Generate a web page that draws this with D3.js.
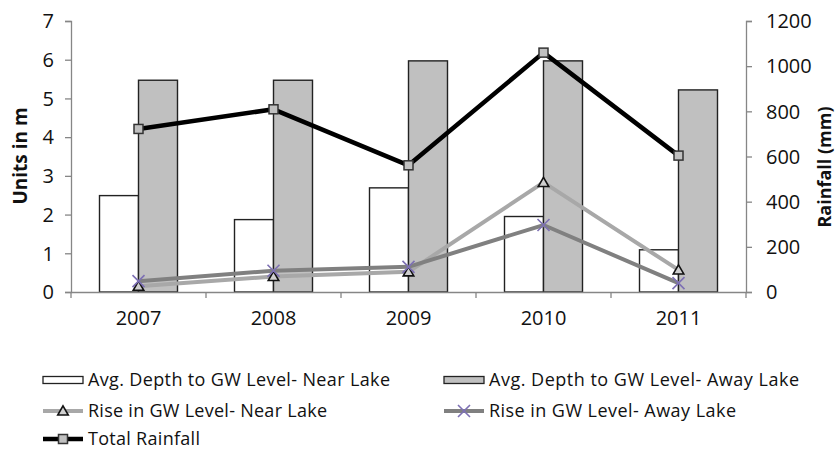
<!DOCTYPE html>
<html><head><meta charset="utf-8">
<script src="https://cdn.jsdelivr.net/npm/d3@7/dist/d3.min.js"></script>
<style>
html,body{margin:0;padding:0;background:#fff;}
svg{display:block;font-family:"Open Sans",sans-serif;}
</style></head>
<body>
<svg id="chart" width="838" height="452"></svg>
<script>
const years = ["2007","2008","2009","2010","2011"];
const depthNear = [2.49, 1.87, 2.69, 1.95, 1.09];
const depthAway = [5.47, 5.47, 5.97, 5.97, 5.22];
const riseNear = [0.15, 0.40, 0.52, 2.83, 0.57];
const riseAway = [0.28, 0.55, 0.65, 1.73, 0.23];
const rainfall = [722, 809, 561, 1060, 604];
const leftTicks = [0,1,2,3,4,5,6,7];
const rightTicks = [0,200,400,600,800,1000,1200];
const legendLabels = [
  "Avg. Depth to GW Level- Near Lake",
  "Avg. Depth to GW Level- Away Lake",
  "Rise in GW Level- Near Lake",
  "Rise in GW Level- Away Lake",
  "Total Rainfall"
];

const svg = d3.select("#chart");
const L = 71, R = 746, T = 21, B = 292;
const axisColor = "#868686";

const x = d3.scaleBand().domain(years).range([L, R]).padding(0);
const xs = d3.scaleBand().domain(["near","away"]).range([0, x.bandwidth()]).paddingInner(0).paddingOuter(0.7308);
const y = d3.scaleLinear().domain([0,7]).range([B, T]);
const y2 = d3.scaleLinear().domain([0,1200]).range([B, T]);

// Bars
const g = svg.append("g");
g.selectAll("rect.near").data(depthNear).join("rect")
  .attr("x", (d,i) => x(years[i]) + xs("near"))
  .attr("y", d => y(d)).attr("width", xs.bandwidth()).attr("height", d => B - y(d))
  .attr("fill", "#ffffff").attr("stroke", "#222").attr("stroke-width", 1.4);
g.selectAll("rect.away").data(depthAway).join("rect")
  .attr("x", (d,i) => x(years[i]) + xs("away"))
  .attr("y", d => y(d)).attr("width", xs.bandwidth()).attr("height", d => B - y(d))
  .attr("fill", "#c0c0c0").attr("stroke", "#222").attr("stroke-width", 1.4);

// Axes
const axL = svg.append("g").attr("transform", `translate(${L},0)`)
  .call(d3.axisLeft(y).tickValues(leftTicks).tickSize(6).tickPadding(11).tickFormat(d3.format("d")));
const axR = svg.append("g").attr("transform", `translate(${R},0)`)
  .call(d3.axisRight(y2).tickValues(rightTicks).tickSize(6).tickPadding(14).tickFormat(d3.format("d")));
const axB = svg.append("g").attr("transform", `translate(0,${B})`)
  .call(d3.axisBottom(x).tickSize(0).tickPadding(19));
const bounds = years.map(d => x(d)).concat([R]);
svg.append("g").selectAll("line").data(bounds).join("line")
  .attr("x1", d => d).attr("x2", d => d).attr("y1", B).attr("y2", B + 6)
  .attr("stroke", axisColor).attr("stroke-width", 1.3);
[axL, axR, axB].forEach(a => {
  a.select(".domain").attr("stroke", axisColor).attr("stroke-width", 1.3);
  a.selectAll(".tick line").attr("stroke", axisColor).attr("stroke-width", 1.3);
  a.selectAll(".tick text").attr("fill", "#111").style("font-size", "20px").style("font-family", "'Open Sans',sans-serif");
});
axR.selectAll(".tick text").attr("dy", "0.34em");
axL.selectAll(".tick text").attr("dy", "0.34em");

// Axis titles
svg.append("text").attr("transform", "translate(27,156) rotate(-90)")
  .attr("text-anchor", "middle").style("font-weight", "bold").style("font-size", "19px").attr("fill", "#111")
  .text("Units in m");
svg.append("text").attr("transform", "translate(831,167) rotate(-90)")
  .attr("text-anchor", "middle").style("font-weight", "bold").style("font-size", "18px").attr("fill", "#111")
  .text("Rainfall (mm)");

// Lines
const lineL = d3.line().x((d,i) => x(years[i]) + x.bandwidth()/2).y(d => y(d));
const lineR = d3.line().x((d,i) => x(years[i]) + x.bandwidth()/2).y(d => y2(d));
const cx = i => x(years[i]) + x.bandwidth()/2;

const triPath = d3.symbol().type(d3.symbolTriangle).size(48)();
function drawTri(sel, px, py) {
  sel.append("path").attr("d", triPath).attr("transform", `translate(${px},${py + 1})`)
    .attr("fill", "#d0d0d0").attr("stroke", "#111").attr("stroke-width", 1.6);
}
function drawX(sel, px, py) {
  const s = 6;
  sel.append("path").attr("d", `M${px-s},${py-s}L${px+s},${py+s}M${px-s},${py+s}L${px+s},${py-s}`)
    .attr("stroke", "#7d70b4").attr("stroke-width", 1.6).attr("fill", "none");
}
function drawSq(sel, px, py) {
  sel.append("rect").attr("x", px-4.5).attr("y", py-4.5).attr("width", 9).attr("height", 9)
    .attr("fill", "#c0c0c0").attr("stroke", "#333").attr("stroke-width", 1.5);
}

svg.append("path").datum(riseNear).attr("d", lineL).attr("fill", "none")
  .attr("stroke", "#a8a8a8").attr("stroke-width", 4);
svg.append("path").datum(riseAway).attr("d", lineL).attr("fill", "none")
  .attr("stroke", "#808080").attr("stroke-width", 4);
svg.append("path").datum(rainfall).attr("d", lineR).attr("fill", "none")
  .attr("stroke", "#000").attr("stroke-width", 4.5).attr("stroke-linejoin", "round");
const mk = svg.append("g");
riseNear.forEach((d,i) => drawTri(mk, cx(i), y(d)));
riseAway.forEach((d,i) => drawX(mk, cx(i), y(d)));
rainfall.forEach((d,i) => drawSq(mk, cx(i), y2(d)));

// Legend
const leg = svg.append("g");
const items = [
  {label: legendLabels[0], type: "barW", sx: 43, ty: 380, w: 302},
  {label: legendLabels[1], type: "barG", sx: 444, ty: 380, w: 310},
  {label: legendLabels[2], type: "tri", sx: 43, ty: 411, w: 239},
  {label: legendLabels[3], type: "x", sx: 444, ty: 411, w: 247},
  {label: legendLabels[4], type: "sq", sx: 43, ty: 439, w: 112}
];
items.forEach(it => {
  const gx = leg.append("g");
  if (it.type === "barW" || it.type === "barG") {
    gx.append("rect").attr("x", it.sx).attr("y", it.ty - 3.5).attr("width", 40).attr("height", 7)
      .attr("fill", it.type === "barW" ? "#fff" : "#c0c0c0").attr("stroke", "#222").attr("stroke-width", 1.3);
  } else {
    const col = it.type === "tri" ? "#a8a8a8" : it.type === "x" ? "#808080" : "#000";
    gx.append("line").attr("x1", it.sx).attr("x2", it.sx + 40).attr("y1", it.ty).attr("y2", it.ty)
      .attr("stroke", col).attr("stroke-width", it.type === "sq" ? 4.5 : 4);
    if (it.type === "tri") drawTri(gx, it.sx + 20, it.ty);
    if (it.type === "x") drawX(gx, it.sx + 20, it.ty);
    if (it.type === "sq") drawSq(gx, it.sx + 20, it.ty);
  }
  gx.append("text").attr("x", it.sx + 45).attr("y", it.ty).attr("dy", "0.36em")
    .attr("textLength", it.w).attr("lengthAdjust", "spacing")
    .style("font-size", "18px").attr("fill", "#111").text(it.label);
});
</script>
</body></html>
